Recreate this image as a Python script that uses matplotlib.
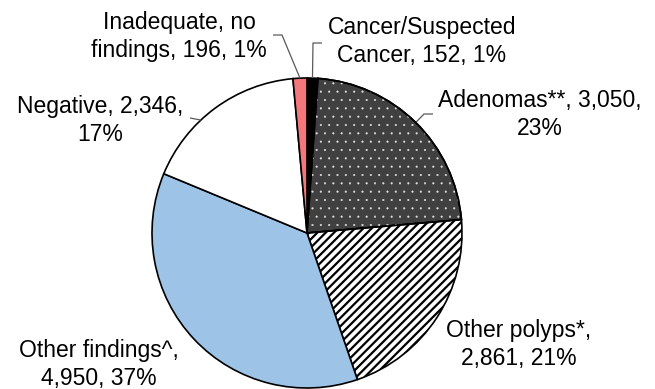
import numpy as np
import matplotlib
matplotlib.use("Agg")
import matplotlib.pyplot as plt
from matplotlib.patches import Wedge

plt.rcParams['font.family'] = ['Liberation Sans', 'DejaVu Sans']

# Results of the screening follow-up, clockwise from 12 o'clock
categories = ['Cancer/Suspected\nCancer', 'Adenomas**', 'Other polyps*',
              'Other findings^', 'Negative', 'Inadequate, no\nfindings']
counts = [152, 3050, 2861, 4950, 2346, 196]
percents = [1, 23, 21, 37, 17, 1]
label_texts = ['Cancer/Suspected\nCancer, 152, 1%',
               'Adenomas**, 3,050,\n23%',
               'Other polyps*,\n2,861, 21%',
               'Other findings^,\n4,950, 37%',
               'Negative, 2,346,\n17%',
               'Inadequate, no\nfindings, 196, 1%']

face_colors = ['#000000', '#404040', '#ffffff', '#9dc3e6', '#ffffff', '#f4787b']

W, H = 655, 389
fig = plt.figure(figsize=(W / 100, H / 100), dpi=100)
ax = fig.add_axes([0, 0, 1, 1])

cx, cy, r = 307, H - 233, 155

wedges, _ = ax.pie(counts, colors=face_colors, startangle=90, counterclock=False,
                   center=(cx, cy), radius=r, frame=True,
                   wedgeprops=dict(edgecolor='black', linewidth=1.2))
ax.set_xlim(0, W)
ax.set_ylim(0, H)
ax.set_aspect('equal')
ax.axis('off')

# diagonal stripes for other polyps
wp = wedges[2]
wp.set_hatch('////')
if hasattr(wp, 'set_hatch_linewidth'):
    wp.set_hatch_linewidth(1.6)

# white dots over the dark adenoma slice
wa = wedges[1]
dots = Wedge(wa.center, wa.r, wa.theta1, wa.theta2, facecolor='none',
             edgecolor='#e0e0e0', linewidth=0, hatch='..', zorder=wa.get_zorder() + 0.1)
if hasattr(dots, 'set_hatch_linewidth'):
    dots.set_hatch_linewidth(0.3)
ax.add_patch(dots)
outline = Wedge(wa.center, wa.r, wa.theta1, wa.theta2, facecolor='none',
                edgecolor='black', linewidth=1.2, zorder=wa.get_zorder() + 0.2)
ax.add_patch(outline)

# last-line baselines of the labels (pixels from top-left)
label_pos = [(422, 62), (540, 135), (519, 365), (99, 385), (100, 141), (179, 57)]
for txt, (lx, ly) in zip(label_texts, label_pos):
    ax.text(lx, H - ly, txt, ha='center', va='baseline', fontsize=16.5,
            linespacing=1.3, color='black')


# leader lines from the slice rims
def rim(i, frac=0.5):
    w = wedges[i]
    a = np.deg2rad(w.theta1 + (w.theta2 - w.theta1) * frac)
    return cx + r * np.cos(a), cy + r * np.sin(a)


lc = '#595959'
leaders = {
    0: (0.5, [(313, 43), (322, 43)]),
    1: (0.5, [(424, 114), (433, 114)]),
    4: (0.61, [(190, 118)]),
    5: (0.5, [(282, 35), (273, 35)]),
}
for i, (frac, pts) in leaders.items():
    x0, y0 = rim(i, frac)
    xs = [x0] + [p[0] for p in pts]
    ys = [y0] + [H - p[1] for p in pts]
    ax.plot(xs, ys, color=lc, linewidth=0.9, solid_capstyle='butt', zorder=1)

fig.savefig('out.png', dpi=100)
